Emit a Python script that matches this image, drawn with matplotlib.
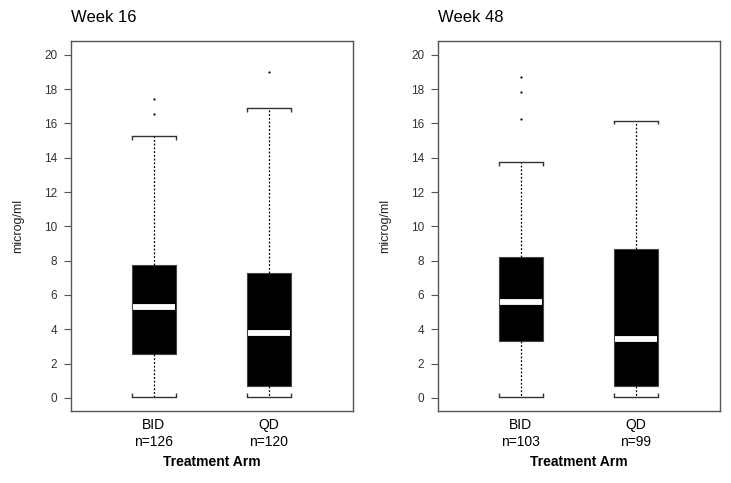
import matplotlib
matplotlib.use('Agg')
import matplotlib.pyplot as plt

plt.rcParams['font.family'] = ['Liberation Sans', 'DejaVu Sans']

# summary statistics (microg/ml)
arms = ['BID', 'QD']
week16_n = [126, 120]
week16_low = [0.08, 0.08]
week16_q1 = [2.57, 0.70]
week16_med = [5.29, 3.77]
week16_q3 = [7.72, 7.31]
week16_high = [15.26, 16.89]
week16_out = [[16.56, 17.43], [18.97]]

week48_n = [103, 99]
week48_low = [0.08, 0.08]
week48_q1 = [3.34, 0.70]
week48_med = [5.58, 3.42]
week48_q3 = [8.20, 8.67]
week48_high = [13.74, 16.15]
week48_out = [[16.25, 17.80, 18.72], []]


def make_stats(low, q1, med, q3, high, out):
    stats = []
    for i in range(len(arms)):
        stats.append(dict(whislo=low[i], q1=q1[i], med=med[i], q3=q3[i],
                          whishi=high[i], fliers=out[i]))
    return stats


def draw_panel(ax, title, n, low, q1, med, q3, high, out):
    stats = make_stats(low, q1, med, q3, high, out)
    pos = [1, 2]
    bw = 0.38
    bp = ax.bxp(stats, positions=pos, widths=bw, patch_artist=True,
                boxprops=dict(facecolor='black', edgecolor='#444444', linewidth=0.8),
                medianprops=dict(color='white', linewidth=4.2, solid_capstyle='butt'),
                whiskerprops=dict(color='black', linestyle=(0, (1.5, 1.5)), linewidth=0.9),
                capprops=dict(color='#333333', linewidth=1.0),
                capwidths=bw,
                flierprops=dict(marker='s', markersize=1.0, markerfacecolor='black',
                                markeredgecolor='black', markeredgewidth=0.3))
    # white median a hair inside the box edges
    for i, m in enumerate(bp['medians']):
        m.set_xdata([pos[i] - bw / 2 + 0.006, pos[i] + bw / 2 - 0.006])
    # little ticks at the ends of the staples, pointing to the box
    for i, p in enumerate(pos):
        for x in (p - bw / 2, p + bw / 2):
            ax.vlines(x, high[i] - 0.2, high[i], color='#333333', linewidth=1.0)
            ax.vlines(x, low[i], low[i] + 0.2, color='#333333', linewidth=1.0)

    ax.set_xlim(0.28, 2.73)
    ax.set_ylim(-0.76, 20.8)
    ax.set_yticks(range(0, 21, 2))
    ax.set_xticks(pos)
    ax.set_xticklabels([f'{a}\nn={k}' for a, k in zip(arms, n)], fontsize=10,
                       color='black', linespacing=1.3)
    ax.tick_params(axis='y', labelsize=8.5, labelcolor='#333333', color='#555555',
                   length=5, width=0.8, pad=5)
    ax.tick_params(axis='x', length=0, pad=5)
    for s in ax.spines.values():
        s.set_color('#555555')
        s.set_linewidth(1.0)
    ax.set_ylabel('microg/ml', fontsize=9, color='#222222', labelpad=14)
    ax.set_xlabel('Treatment Arm', fontsize=10, fontweight='bold', labelpad=4.5)
    ax.set_title(title, loc='left', fontsize=12, pad=14, x=0.0)


fig = plt.figure(figsize=(7.31, 4.83), dpi=100)
ax1 = fig.add_axes([71 / 731, 72 / 483, 282 / 731, 370 / 483])
ax2 = fig.add_axes([438 / 731, 72 / 483, 282 / 731, 370 / 483])

draw_panel(ax1, 'Week 16', week16_n, week16_low, week16_q1, week16_med,
           week16_q3, week16_high, week16_out)
draw_panel(ax2, 'Week 48', week48_n, week48_low, week48_q1, week48_med,
           week48_q3, week48_high, week48_out)

fig.savefig('out.png', dpi=100)
